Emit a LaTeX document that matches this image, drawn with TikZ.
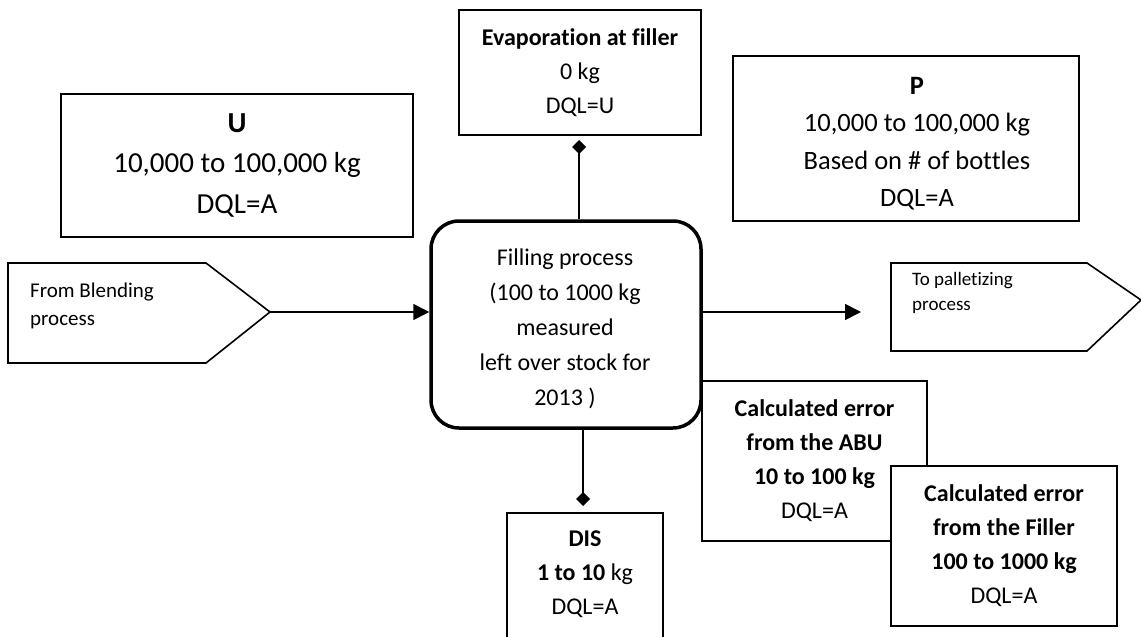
\documentclass[tikz,border=0pt]{standalone}
\usepackage{fontspec}
\setmainfont{Carlito}[Ligatures={NoCommon,NoContextual}]
\usetikzlibrary{arrows.meta,calc}
\begin{document}
\begin{tikzpicture}[x=1pt,y=-1pt,
  box/.style={draw=black, line width=2pt, fill=white, inner sep=0pt, align=center},
  procbox/.style={draw=black, line width=3.5pt, rounded corners=28pt, fill=white,
    inner sep=0pt, align=center},
  shapeline/.style={draw=black, line width=1.6pt, line join=miter},
  flow/.style={line width=1.6pt, -{Triangle[length=16pt,width=16pt]}},
  link/.style={line width=1.6pt, -{Diamond[length=14pt,width=14pt]}},
  body/.style={font=\fontsize{24}{34}\selectfont},
  procfont/.style={font=\fontsize{24}{35}\selectfont},
  bigtext/.style={font=\fontsize{29}{40.5}\selectfont},
  midtext/.style={font=\fontsize{26.5}{37.5}\selectfont},
  txt/.style={inner sep=0pt, align=center},
]
\useasboundingbox (0,0) rectangle (1141,637);
\clip (0,0) rectangle (1141,637);

% incoming and outgoing process markers
\draw[shapeline] (8,263) -- (206,263) -- (270,312) -- (206,363) -- (8,363) -- cycle;
\coordinate (blendtip) at (270,312);
\node[inner sep=0pt, anchor=west, align=left,
  font=\fontsize{21}{28}\selectfont] (blendtext) at (30,306) {From Blending\\process};

\draw[shapeline] (891,263) -- (1087,263) -- (1141,300) -- (1087,351) -- (891,351) -- cycle;
\node[inner sep=0pt, anchor=west, align=left,
  font=\fontsize{19}{25}\selectfont] (pallettext) at (912,293) {To palletizing\\process};

% central process
\node[procbox, minimum width=270, minimum height=207] (filling) at (566,324.5) {};
\node[txt, procfont] (fillingtext) at (565,328.5)
  {Filling process\\(100 to 1000 kg\\measured\\left over stock for\\2013 )};

% input and output quantities
\node[box, bigtext, minimum width=352, minimum height=143] (ubox) at (237,165.5)
  {\textbf{U}\\10,000 to 100,000 kg\\DQL=A};

\node[box, minimum width=346, minimum height=165] (pbox) at (906,138.5) {};
\node[txt, midtext] (ptext) at (917,143.5)
  {\textbf{P}\\10,000 to 100,000 kg\\Based on \# of bottles\\DQL=A};

\node[box, body, minimum width=242, minimum height=125] (evap) at (580,72.5)
  {\textbf{Evaporation at filler}\\0 kg\\DQL=U};

\node[box, minimum width=156, minimum height=167] (dis) at (585,596.5) {};
\node[txt, body] (distext) at (585,574)
  {\textbf{DIS}\\\textbf{1 to 10} kg\\DQL=A};

% calculated errors
\node[box, body, minimum width=225, minimum height=160] (abu) at (814.5,461)
  {\textbf{Calculated error}\\\textbf{from the ABU}\\\textbf{10 to 100 kg}\\DQL=A};
\node[box, body, minimum width=226, minimum height=160] (filler) at (1004,546)
  {\textbf{Calculated error}\\\textbf{from the Filler}\\\textbf{100 to 1000 kg}\\DQL=A};

% connectors
\coordinate (palletin) at (861,312);
\coordinate (evapend) at (579,140);
\coordinate (disend) at (583,506);
\draw[flow] (blendtip) -- (filling.west |- blendtip);
\draw[flow] (filling.east |- palletin) -- (palletin);
\draw[link] (evapend |- filling.north) -- (evapend);
\draw[link] (disend |- filling.south) -- (disend);
\end{tikzpicture}
\end{document}
